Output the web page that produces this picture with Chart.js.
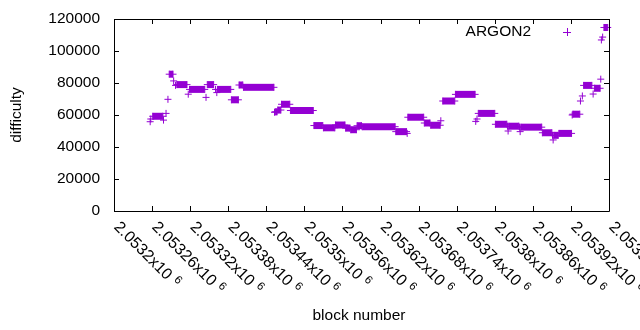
<!DOCTYPE html>
<html>
<head>
<meta charset="utf-8">
<script src="https://cdn.jsdelivr.net/npm/chart.js@4.4.0/dist/chart.umd.min.js"></script>
<style>
body { margin: 0; background: #fff; }
#wrap { width: 640px; height: 330px; }
</style>
</head>
<body>
<div id="wrap"><canvas id="chart" width="640" height="330"></canvas></div>
<script>
// numery bloków i trudność (schodki = początek i koniec)
const blocks = [
    2053257, 2053258, 2053261, 2053277, 2053278, 2053282, 2053285, 2053287, 2053293, 2053294,
    2053297, 2053299, 2053315, 2053317, 2053319, 2053343, 2053345, 2053347, 2053357, 2053360,
    2053362, 2053363, 2053384, 2053385, 2053396, 2053397, 2053403, 2053404, 2053452, 2053453,
    2053454, 2053457, 2053458, 2053463, 2053464, 2053477, 2053478, 2053514, 2053515, 2053529,
    2053530, 2053548, 2053549, 2053564, 2053565, 2053572, 2053573, 2053582, 2053583, 2053590,
    2053591, 2053643, 2053644, 2053661, 2053662, 2053663, 2053688, 2053689, 2053698, 2053699,
    2053714, 2053715, 2053718, 2053737, 2053738, 2053769, 2053770, 2053772, 2053774, 2053800,
    2053801, 2053819, 2053820, 2053821, 2053822, 2053838, 2053839, 2053840, 2053841, 2053874,
    2053875, 2053890, 2053891, 2053892, 2053893, 2053900, 2053901, 2053921, 2053922, 2053923,
    2053934, 2053935, 2053938, 2053940, 2053953, 2053955, 2053957, 2053966, 2053967, 2053968,
    2053970, 2053972, 2053978
];
const difficulty = [
    55800, 57500, 59200, 59200, 56800, 61000, 69800, 85500, 85500, 81300,
    78500, 79000, 79000, 73000, 76000, 76000, 71000, 79000, 79000, 76000,
    74000, 76000, 76000, 69500, 69500, 78750, 78750, 77300, 77300, 61700,
    62000, 62000, 63100, 63100, 66700, 66700, 62800, 62800, 53400, 53400,
    52000, 52000, 53750, 53750, 51800, 51800, 50800, 50800, 53300, 53300,
    52700, 52700, 49600, 49600, 48500, 58600, 58600, 55000, 55000, 53600,
    53600, 56400, 68750, 68750, 72900, 72900, 56000, 57500, 61000, 61000,
    54200, 54200, 53000, 50000, 53000, 53000, 52400, 49600, 52400, 52400,
    48900, 48900, 47300, 44400, 47300, 47300, 48500, 48500, 60000, 60500,
    60500, 68750, 71900, 78500, 78500, 73100, 76700, 76700, 82400, 106900,
    108700, 114700, 114700
];

const yTicks = [0, 20000, 40000, 60000, 80000, 100000, 120000];
const xTicks = [
    2053200, 2053260, 2053320, 2053380, 2053440, 2053500, 2053560,
    2053620, 2053680, 2053740, 2053800, 2053860, 2053920, 2053980
];
const xTickLabels = [
    "2.0532x10", "2.05326x10", "2.05332x10", "2.05338x10", "2.05344x10", "2.0535x10", "2.05356x10",
    "2.05362x10", "2.05368x10", "2.05374x10", "2.0538x10", "2.05386x10", "2.05392x10", "2.05398x10"
];
const xTickExp = "6";
const seriesName = "ARGON2";
const color = "#9400d3";
const font = "15.5px 'Liberation Sans', Arial, sans-serif";
const xFont = "16px 'Liberation Sans', Arial, sans-serif";
const smallFont = "11.5px 'Liberation Sans', Arial, sans-serif";

// ramka, znaczniki osi, opisy i legenda w stylu gnuplota
const frame = {
    id: "frame",
    afterDatasetsDraw(chart) {
        const ctx = chart.ctx;
        const a = chart.chartArea;
        const x = chart.scales.x;
        const y = chart.scales.y;
        const tl = 5;
        ctx.save();
        ctx.strokeStyle = "#000";
        ctx.lineWidth = 1;
        ctx.beginPath();
        ctx.rect(Math.round(a.left) + 0.5, Math.round(a.top) + 0.5,
            Math.round(a.right - a.left), Math.round(a.bottom - a.top));
        for (const v of xTicks) {
            const px = Math.round(x.getPixelForValue(v)) + 0.5;
            ctx.moveTo(px, a.bottom); ctx.lineTo(px, a.bottom - tl);
            ctx.moveTo(px, a.top); ctx.lineTo(px, a.top + tl);
        }
        for (const v of yTicks) {
            const py = Math.round(y.getPixelForValue(v)) + 0.5;
            ctx.moveTo(a.left, py); ctx.lineTo(a.left + tl, py);
            ctx.moveTo(a.right, py); ctx.lineTo(a.right - tl, py);
        }
        ctx.stroke();

        ctx.fillStyle = "#000";
        ctx.font = font;
        ctx.textAlign = "right";
        ctx.textBaseline = "middle";
        for (const v of yTicks) {
            ctx.fillText(String(v), a.left - 14, y.getPixelForValue(v));
        }

        xTicks.forEach((v, i) => {
            const px = x.getPixelForValue(v);
            ctx.save();
            ctx.translate(px + 8, a.bottom + 8);
            ctx.rotate(Math.PI / 4);
            ctx.font = xFont;
            ctx.textAlign = "left";
            ctx.textBaseline = "top";
            ctx.fillText(xTickLabels[i], 0, 0);
            const w = ctx.measureText(xTickLabels[i]).width;
            ctx.font = smallFont;
            ctx.fillText(xTickExp, w + 5, -2);
            ctx.restore();
        });

        ctx.font = font;
        ctx.textAlign = "center";
        ctx.textBaseline = "middle";
        ctx.fillText("block number", 359, 316);
        ctx.save();
        ctx.translate(17, 115);
        ctx.rotate(-Math.PI / 2);
        ctx.fillText("difficulty", 0, 0);
        ctx.restore();

        // legenda
        ctx.textAlign = "right";
        ctx.fillText(seriesName, 531, 32);
        ctx.strokeStyle = color;
        ctx.beginPath();
        ctx.moveTo(563, 32.5); ctx.lineTo(571, 32.5);
        ctx.moveTo(567.5, 28); ctx.lineTo(567.5, 36);
        ctx.stroke();
        ctx.restore();
    }
};

const points = blocks.map((b, i) => ({ x: b, y: difficulty[i] }));

const ctx = document.getElementById("chart").getContext("2d");
const chart = new Chart(ctx, {
    type: "scatter",
    data: {
        datasets: [{
            label: seriesName,
            data: points,
            showLine: true,
            borderColor: color,
            borderWidth: 7,
            borderCapStyle: "butt",
            pointStyle: "cross",
            pointRadius: 3.5,
            pointBorderWidth: 1,
            pointBorderColor: color,
            pointBackgroundColor: color,
            clip: false,
            segment: {
                borderColor: (c) => c.p0.parsed.y === c.p1.parsed.y ? color : "rgba(0,0,0,0)",
            },
        }],
    },
    options: {
        responsive: false,
        animation: false,
        events: [],
        layout: { padding: { left: 114, top: 19, right: 31, bottom: 119 } },
        plugins: { legend: { display: false }, tooltip: { enabled: false } },
        scales: {
            x: { type: "linear", min: 2053200, max: 2053980, display: false },
            y: { min: 0, max: 120000, display: false },
        },
    },
    plugins: [frame],
});
</script>
</body>
</html>
